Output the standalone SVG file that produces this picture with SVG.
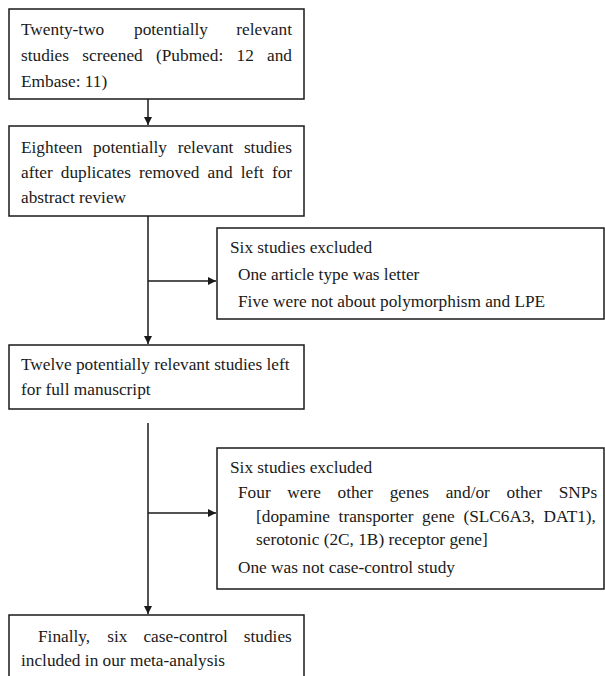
<svg xmlns="http://www.w3.org/2000/svg" width="605" height="676" viewBox="0 0 605 676">
<defs>
<style>
.box{fill:#fff;stroke:#1a1a1a;stroke-width:1.5}
.t{font-family:"Liberation Serif","Times New Roman",serif;font-size:17.3px;fill:#1a1a1a}
.c{stroke:#1a1a1a;stroke-width:1.5;fill:none}
</style>
<marker id="ah" viewBox="0 0 10 10" refX="10" refY="5" markerWidth="8" markerHeight="8" markerUnits="userSpaceOnUse" orient="auto">
<path d="M0,0 L10,5 L0,10 z" fill="#1a1a1a"/>
</marker>
</defs>
<rect width="605" height="676" fill="#fff"/>
<g id="connectors">
<line class="c" x1="148" y1="99" x2="148" y2="125" marker-end="url(#ah)"/>
<line class="c" x1="148" y1="216" x2="148" y2="344" marker-end="url(#ah)"/>
<line class="c" x1="148" y1="281" x2="216" y2="281" marker-end="url(#ah)"/>
<line class="c" x1="148" y1="423" x2="148" y2="614" marker-end="url(#ah)"/>
<line class="c" x1="148" y1="513" x2="216" y2="513" marker-end="url(#ah)"/>
</g>
<g id="n1">
<rect class="box" x="9" y="9" width="295" height="90"/>
<text class="t" y="35"><tspan x="21">Twenty-two</tspan><tspan x="134">potentially</tspan><tspan x="236.3">relevant</tspan></text>
<text class="t" y="61"><tspan x="21">studies</tspan><tspan x="82.3">screened</tspan><tspan x="156">(Pubmed:</tspan><tspan x="236.5">12</tspan><tspan x="267">and</tspan></text>
<text class="t" x="21" y="87">Embase: 11)</text>
</g>
<g id="n2">
<rect class="box" x="9" y="126" width="295" height="90"/>
<text class="t" y="153"><tspan x="21">Eighteen</tspan><tspan x="93.1">potentially</tspan><tspan x="177.7">relevant</tspan><tspan x="243.9">studies</tspan></text>
<text class="t" y="178"><tspan x="21">after</tspan><tspan x="60.8">duplicates</tspan><tspan x="139">removed</tspan><tspan x="207.6">and</tspan><tspan x="240.7">left</tspan><tspan x="271.9">for</tspan></text>
<text class="t" x="21" y="203">abstract review</text>
</g>
<g id="n3">
<rect class="box" x="217" y="228" width="387" height="91"/>
<text class="t" x="230" y="253">Six studies excluded</text>
<text class="t" x="238" y="280">One article type was letter</text>
<text class="t" x="238" y="307">Five were not about polymorphism and LPE</text>
</g>
<g id="n4">
<rect class="box" x="9" y="345" width="295" height="64"/>
<text class="t" x="21" y="370">Twelve potentially relevant studies left</text>
<text class="t" x="21" y="395">for full manuscript</text>
</g>
<g id="n5">
<rect class="box" x="217" y="448" width="387" height="141"/>
<text class="t" x="230" y="473">Six studies excluded</text>
<text class="t" y="498"><tspan x="238">Four</tspan><tspan x="287.3">were</tspan><tspan x="337.5">other</tspan><tspan x="389.7">genes</tspan><tspan x="445.7">and/or</tspan><tspan x="506.5">other</tspan><tspan x="558.7">SNPs</tspan></text>
<text class="t" y="522"><tspan x="256">[dopamine</tspan><tspan x="338.6">transporter</tspan><tspan x="422.1">gene</tspan><tspan x="463.4">(SLC6A3,</tspan><tspan x="543.6">DAT1),</tspan></text>
<text class="t" x="256" y="545">serotonic (2C, 1B) receptor gene]</text>
<text class="t" x="238" y="573">One was not case-control study</text>
</g>
<g id="n6">
<rect class="box" x="9" y="615" width="295" height="70"/>
<text class="t" y="642"><tspan x="38">Finally,</tspan><tspan x="107.3">six</tspan><tspan x="143.4">case-control</tspan><tspan x="243.8">studies</tspan></text>
<text class="t" x="21" y="666">included in our meta-analysis</text>
</g>
</svg>
